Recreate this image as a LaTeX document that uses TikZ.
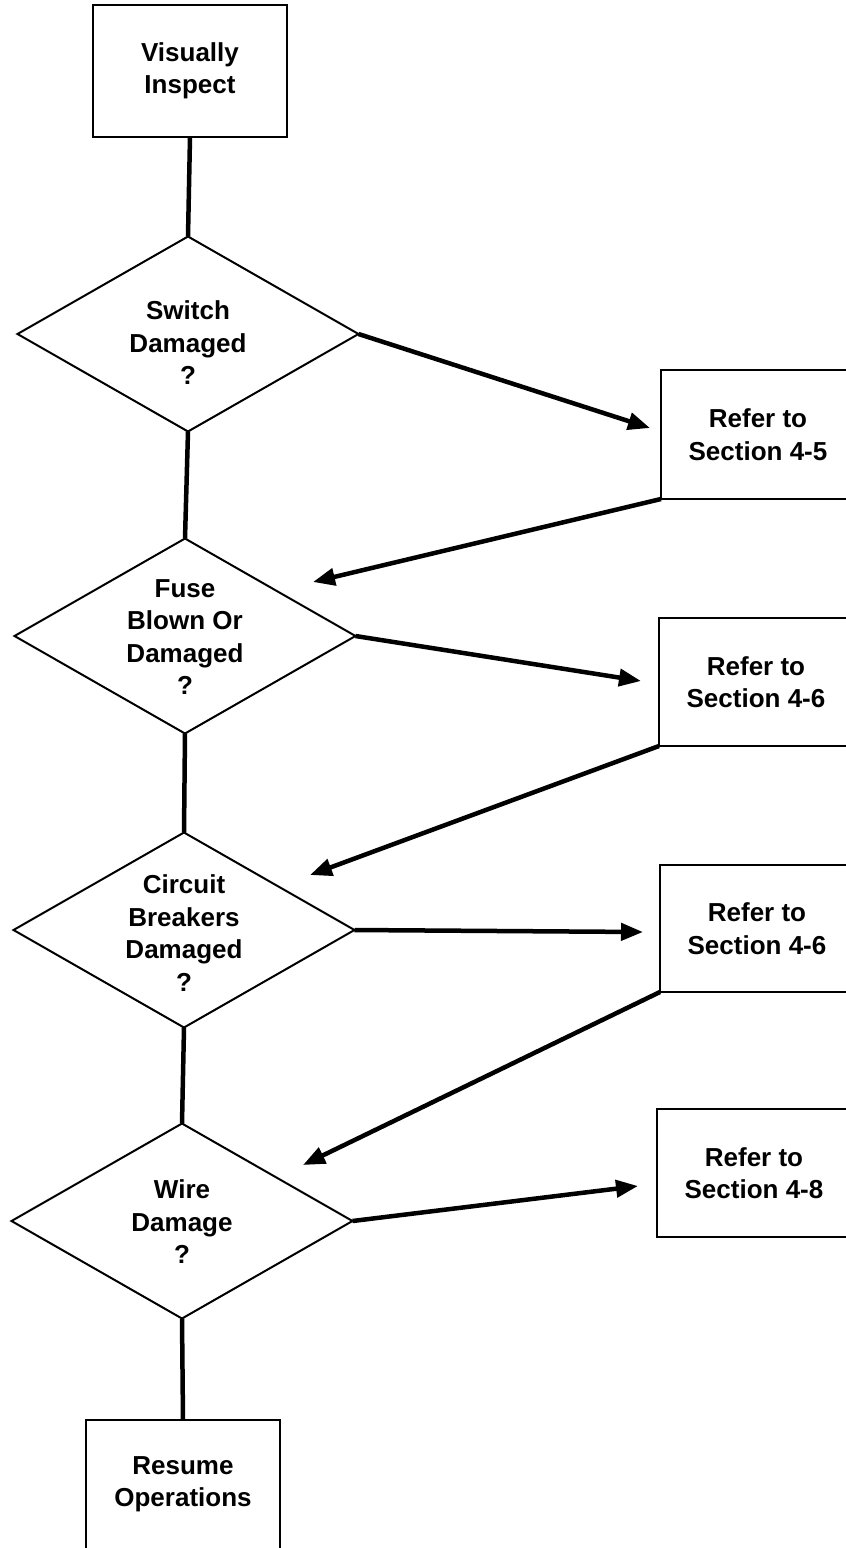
\documentclass[tikz,border=0pt]{standalone}
\usepackage{fontspec}
\setmainfont{Liberation Sans}
\usetikzlibrary{shapes.geometric,arrows.meta}
\newcommand\flowfont{\fontsize{26pt}{32.5pt}\selectfont\bfseries}
\begin{document}
\begin{tikzpicture}[x=1pt,y=-1pt,
  box/.style={draw,line width=2.5pt,minimum width=194pt,inner sep=0pt,outer sep=0pt,align=center,font=\flowfont},
  dia/.style={draw,diamond,line width=2pt,minimum width=341pt,minimum height=195pt,inner sep=0pt,outer sep=0pt},
  txt/.style={inner sep=0pt,align=center,font=\flowfont},
  conn/.style={line width=4.5pt},
  arr/.style={line width=4.5pt,-{Triangle[length=22pt,width=17pt]}}]
\useasboundingbox (0,0) rectangle (846,1548);
% main column
\node[box,minimum height=132pt] (b1) at (190,71) {Visually\\Inspect};
\node[dia] (d1) at (188,334) {};
\node[txt] (d1t) at (188,343) {Switch\\Damaged\\?};
\node[dia] (d2) at (185,636) {};
\node[txt] (d2t) at (185,637) {Fuse\\Blown Or\\Damaged\\?};
\node[dia] (d3) at (184,930) {};
\node[txt] (d3t) at (184,933) {Circuit\\Breakers\\Damaged\\?};
\node[dia] (d4) at (182,1221) {};
\node[txt] (d4t) at (182,1222) {Wire\\Damage\\?};
\node[box,minimum height=160pt,anchor=north] (b6) at (183,1420) {};
\node[txt] (b6t) at (183,1484) {Resume\\Operations};
% right column
\node[box,minimum height=129pt] (r1) at (758,434.5) {Refer to\\Section 4-5};
\node[box,minimum height=128pt] (r2) at (756,682) {Refer to\\Section 4-6};
\node[box,minimum height=127pt] (r3) at (757,928.5) {Refer to\\Section 4-6};
\node[box,minimum height=128pt] (r4) at (754,1173) {Refer to\\Section 4-8};
% arrow tips
\coordinate (p1) at (650,428);
\coordinate (p2) at (313,582);
\coordinate (p3) at (641,681);
\coordinate (p4) at (310,875);
\coordinate (p5) at (643,932);
\coordinate (p6) at (303,1165);
\coordinate (p7) at (638,1186);
% connectors
\draw[conn] (b1.south) -- (d1.north);
\draw[conn] (d1.south) -- (d2.north);
\draw[conn] (d2.south) -- (d3.north);
\draw[conn] (d3.south) -- (d4.north);
\draw[conn] (d4.south) -- (b6.north);
\draw[arr] (d1.east) -- (p1);
\draw[arr] (r1.south west) -- (p2);
\draw[arr] (d2.east) -- (p3);
\draw[arr] (r2.south west) -- (p4);
\draw[arr] (d3.east) -- (p5);
\draw[arr] (r3.south west) -- (p6);
\draw[arr] (d4.east) -- (p7);
\end{tikzpicture}
\end{document}
